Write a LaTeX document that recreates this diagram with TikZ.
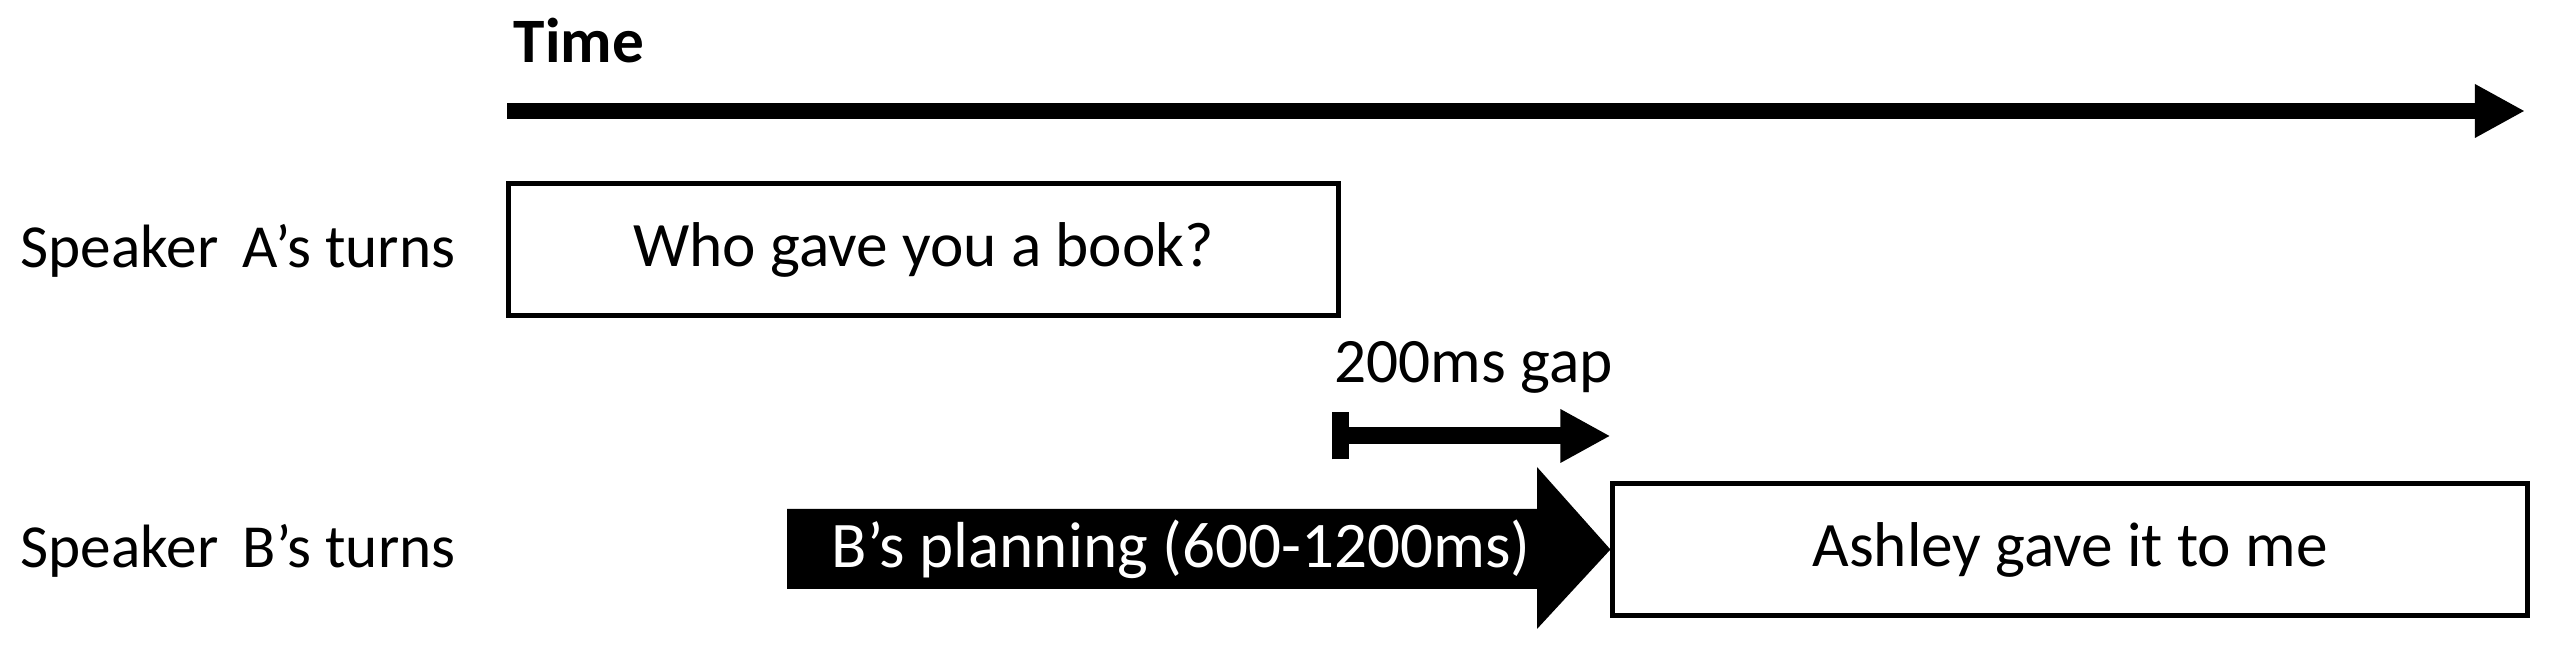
\documentclass[tikz,border=0pt]{standalone}
\usepackage{fontspec}
\setmainfont{Carlito}
\usetikzlibrary{arrows.meta,calc}

\begin{document}
\begin{tikzpicture}[x=0.01cm,y=-0.01cm,font=\fontsize{18pt}{22pt}\selectfont,
    turnbox/.style={draw,line width=1.3pt,rectangle,inner sep=0pt,minimum height=1.32cm},
    label/.style={anchor=base west,inner sep=0pt},
    spk/.style={label,font=\fontsize{17.4pt}{21pt}\selectfont},
    bigarrow/.style={line width=0.16cm,-{Triangle[length=0.5cm,width=0.5cm]}}]
            \useasboundingbox (0,0) rectangle (2550,662);
            % time axis
            \node[label,font=\fontsize{18pt}{22pt}\selectfont\bfseries] (time) at (513,63) {Time};
            \coordinate (t0) at (507,111);
            \coordinate (t1) at (2525,111);
            \draw[bigarrow] (t0)--(t1);
            % speaker A
            \node[spk] (labA) at (20,268) {Speaker\hspace{0.4em}A’s turns};
            \node[turnbox,minimum width=8.29cm] (turnA) at (923.5,249.5) {Who gave you a book?};
            % speaker B
            \node[spk] (labB) at (20,568) {Speaker\hspace{0.4em}B’s turns};
            \node[turnbox,minimum width=9.14cm] (turnB) at (2070,549.5) {Ashley gave it to me};
            % gap
            \node[label] (gaplab) at (1334,383) {200ms gap};
            \coordinate (g0) at (1332,436);
            \coordinate (g1) at (turnB.west |- g0);
            \draw[line width=0.17cm,{Bar[width=0.47cm]}-{Triangle[length=0.5cm,width=0.5cm]}] (g0)--(g1);
            % planning
            \fill (787,509)--(1537,509)--(1537,467)--(turnB.west)--(1537,629)--(1537,589)--(787,589)--cycle;
            \node[white,font=\fontsize{18.5pt}{22pt}\selectfont] (plan) at (1181,549) {B’s planning (600-1200ms)};
        \end{tikzpicture}
\end{document}
